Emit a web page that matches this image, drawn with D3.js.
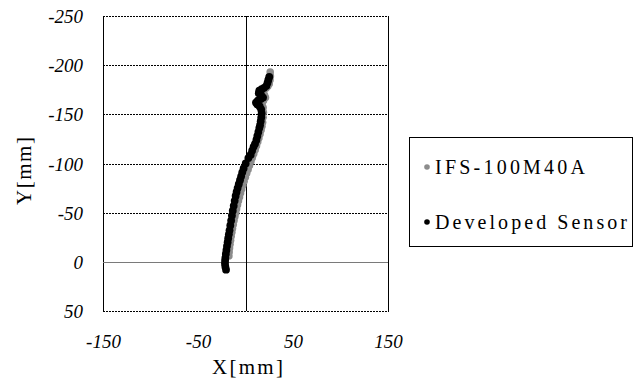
<!DOCTYPE html>
<html><head><meta charset="utf-8">
<script src="https://cdn.jsdelivr.net/npm/d3@7"></script>
<style>
svg text { font-family: 'Liberation Serif' !important; }
</style>
</head><body style="margin:0;background:#fff">
<svg id="c" width="641" height="385" font-family="Liberation Serif"></svg>
<script>
const xTicks = [-150, -50, 50, 150];
const yTicks = [-250, -200, -150, -100, -50, 0, 50];
const seriesNames = ["IFS-100M40A", "Developed Sensor"];
const ifsX = [-17.5,-17.2,-16.8,-16.3,-15.7,-15.1,-14.4,-13.7,-12.9,-12.1,-11.2,-10.3,-9.4,-8.4,-7.4,-6.3,-5.2,-4,-2.8,-1.5,-0.2,1.2,2.7,4.2,5.7,7.2,8.7,10.2,11.6,12.9,14.1,15.3,16.4,17.3,18,18.5,18.8,18.5,17.5,19,21,20,18,19,21.5,23.5,25,25.8,26.2,26];
const ifsY = [-6,-10,-14,-18,-22,-26,-30,-34,-38,-42,-46,-50,-54,-58,-62,-66,-70,-74,-78,-82,-86,-90,-94,-98,-102,-106,-110,-114,-118,-122,-126,-130,-134,-138,-142,-147,-152,-157,-161,-164,-167,-169.5,-172,-174,-176.5,-178.5,-181,-185,-189,-193,-197];
const devX = [-20.5,-21.2,-21.6,-21.5,-21.2,-20.7,-20.1,-19.5,-18.8,-18.2,-17.5,-16.8,-16.0,-15.1,-14.3,-13.4,-12.4,-11.4,-10.4,-9.4,-8.3,-7.1,-5.8,-4.6,-3.4,-2.0,0.2,3,5.5,7,8.5,10,11.5,12.5,13.5,14.5,15.3,16,16.6,17,16.5,15,12.5,11,13,16,18.5,16.5,14,14.5,17,19.5,22,23.2,24,25];
const devY = [8,5,2,-1,-4,-8,-12,-16,-20,-24,-28,-32,-37,-42,-47,-52,-57,-62,-67,-71,-75,-79,-83,-87,-91,-95,-100,-105.5,-109,-113,-117,-120,-124,-128,-132,-136,-139,-143,-147,-151,-155,-158,-160,-162,-164,-165.5,-167,-169.5,-171.5,-174,-175.5,-177,-179,-182,-185,-188];

const svg = d3.select("#c");
const L = 103, R = 388, T = 16, B = 311;
const x = d3.scaleLinear().domain([-150, 150]).range([L, R]);
const y = d3.scaleLinear().domain([-250, 50]).range([T, B]);

// gridlines
svg.append("g").selectAll("line").data(yTicks.filter(v => v !== 0)).join("line")
  .attr("x1", L).attr("x2", R + 1).attr("y1", d => Math.round(y(d)) + 0.5).attr("y2", d => Math.round(y(d)) + 0.5)
  .attr("stroke", "#000").attr("stroke-width", 1).attr("stroke-dasharray", "2,1");
svg.append("line").attr("x1", L + 0.5).attr("x2", L + 0.5).attr("y1", T).attr("y2", B + 1).attr("stroke", "#000");
svg.append("line").attr("x1", R + 0.5).attr("x2", R + 0.5).attr("y1", T).attr("y2", B + 1).attr("stroke", "#000");
svg.append("line").attr("x1", L).attr("x2", R).attr("y1", Math.round(y(0)) + 0.5).attr("y2", Math.round(y(0)) + 0.5).attr("stroke", "#7a7a7a");
svg.append("line").attr("x1", Math.round(x(0)) + 0.5).attr("x2", Math.round(x(0)) + 0.5).attr("y1", T).attr("y2", B).attr("stroke", "#000");

// axes (labels only)
const fmt = d => String(d);
const gx = svg.append("g").attr("transform", `translate(0,${B})`)
  .call(d3.axisBottom(x).tickValues(xTicks).tickSize(0).tickFormat(fmt));
gx.attr("font-family", "Liberation Serif").attr("font-size", 19);
gx.select(".domain").remove();
gx.selectAll("text").attr("y", 37).attr("dy", 0).attr("font-style", "italic").attr("fill", "#000");
const gy = svg.append("g").attr("transform", `translate(${L},0)`)
  .call(d3.axisLeft(y).tickValues(yTicks).tickSize(0).tickFormat(fmt));
gy.attr("font-family", "Liberation Serif").attr("font-size", 19);
gy.select(".domain").remove();
gy.selectAll("text").attr("x", -20).attr("dy", "0.35em").attr("font-style", "italic").attr("fill", "#000");

// axis titles
svg.append("text").attr("x", 247.5).attr("y", 374).attr("text-anchor", "middle")
  .attr("font-size", 21).attr("textLength", 71).attr("lengthAdjust", "spacing").text("X[mm]");
svg.append("text").attr("transform", "translate(31,171) rotate(-90)").attr("text-anchor", "middle")
  .attr("font-size", 21).attr("textLength", 68).attr("lengthAdjust", "spacing").text("Y[mm]");

// data
const ifs = ifsX.map((v, i) => [v, ifsY[i]]);
const dev = devX.map((v, i) => [v, devY[i]]);
svg.append("g").selectAll("circle").data(ifs).join("circle")
  .attr("cx", d => x(d[0])).attr("cy", d => y(d[1])).attr("r", 3.8).attr("fill", "#8c8c8c");
svg.append("g").selectAll("circle").data(dev).join("circle")
  .attr("cx", d => x(d[0])).attr("cy", d => y(d[1])).attr("r", 3.9).attr("fill", "#000");

// legend
const lg = svg.append("g");
lg.append("rect").attr("x", 409.5).attr("y", 137.5).attr("width", 223).attr("height", 109)
  .attr("fill", "#fff").attr("stroke", "#000");
const legColors = ["#8c8c8c", "#000"];
const legY = [167, 222];
const legLen = [150, 192];
seriesNames.forEach((n, i) => {
  lg.append("circle").attr("cx", 427).attr("cy", legY[i]).attr("r", 2.8).attr("fill", legColors[i]);
  lg.append("text").attr("x", 435).attr("y", legY[i]).attr("dy", "0.35em").attr("font-size", 20)
    .attr("textLength", legLen[i]).attr("lengthAdjust", "spacing").text(n);
});
</script>
</body></html>
